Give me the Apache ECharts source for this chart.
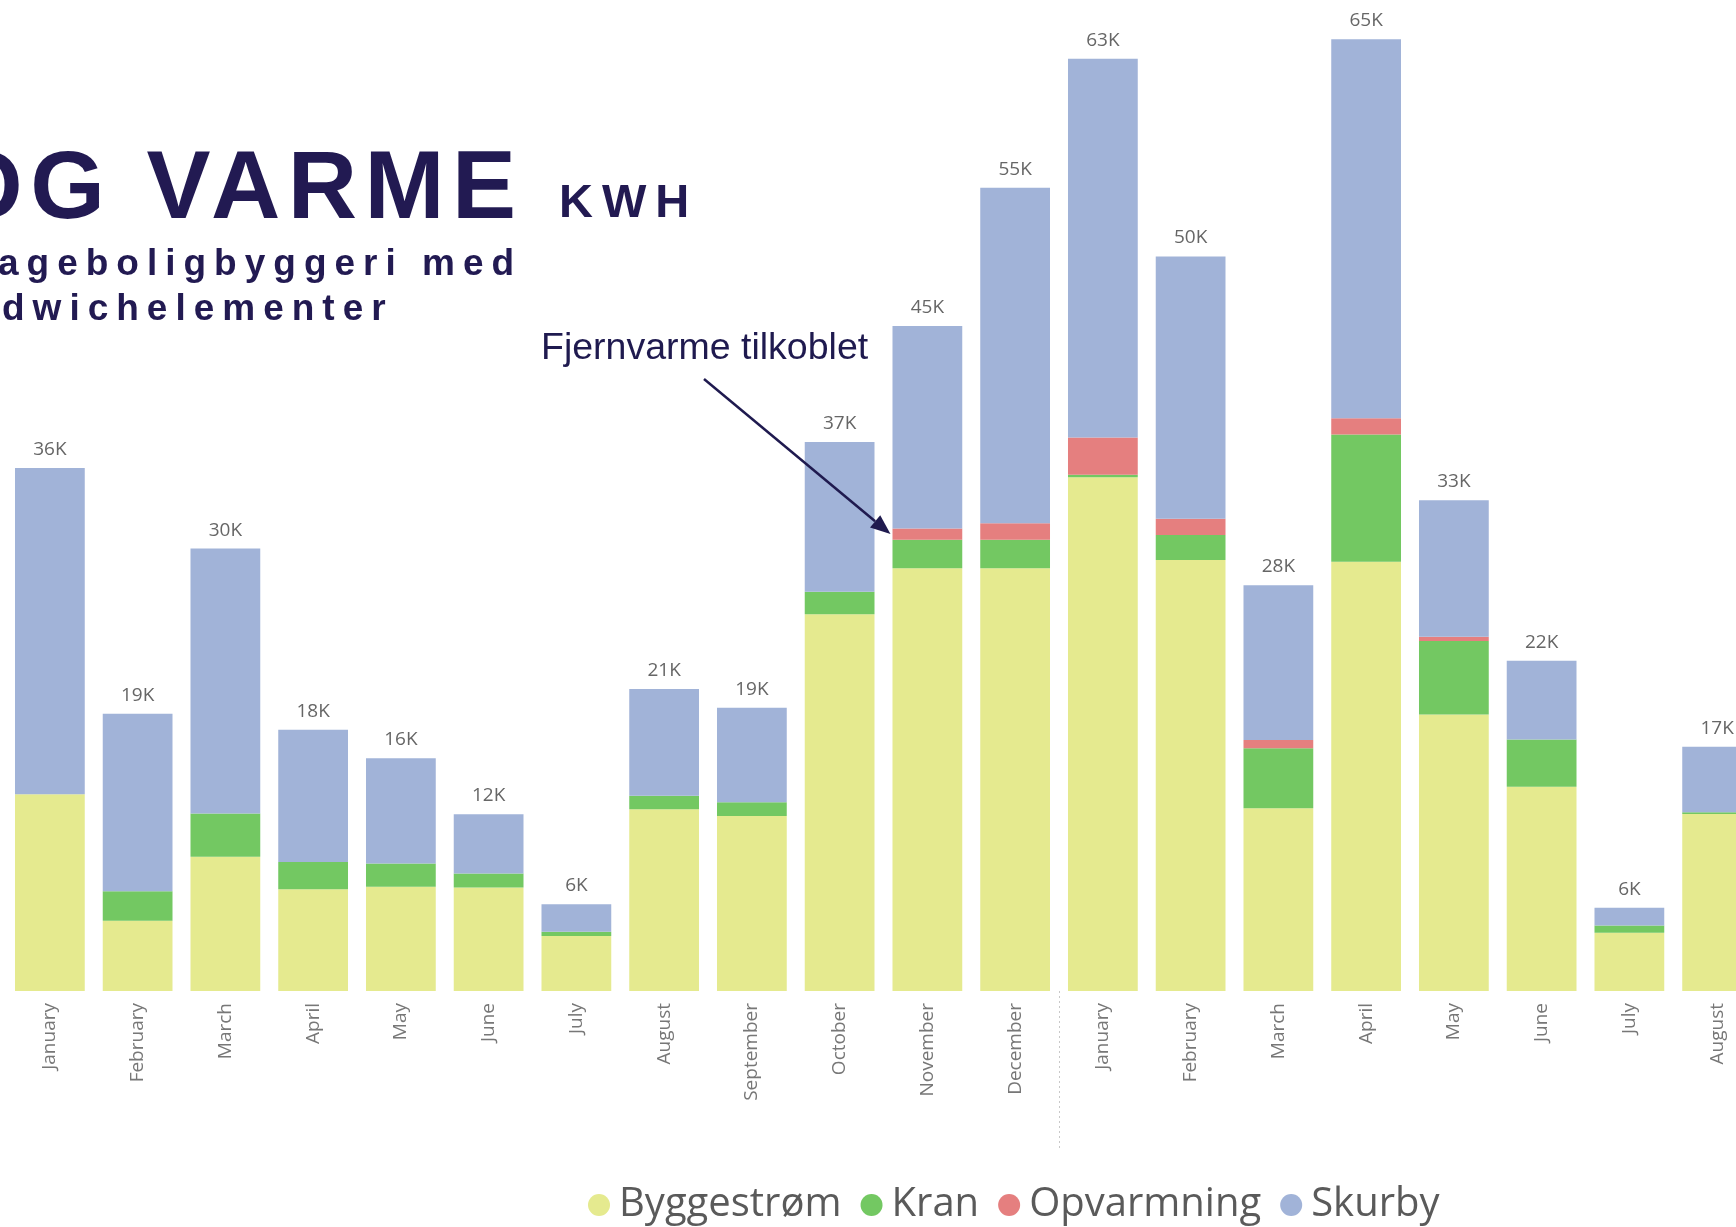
<!DOCTYPE html>
<html>
<head>
<meta charset="utf-8">
<script src="https://cdn.jsdelivr.net/npm/echarts@6/dist/echarts.min.js"></script>
<style>
html, body { margin: 0; padding: 0; background: #fff; }
#wrap { position: relative; width: 1736px; height: 1227px; overflow: hidden; }
#chart { position: absolute; left: 0; top: 0; width: 1736px; height: 1227px; }
.ttl { position: absolute; white-space: nowrap; font-family: "Liberation Sans", Arial, sans-serif; font-weight: bold; color: #221a52; line-height: 1; }
</style>
</head>
<body>
<div id="wrap">
  <div id="chart"></div>
  <div class="ttl" style="left:-52px;top:137px;font-size:96px;letter-spacing:7.5px;">OG VARME</div>
  <div class="ttl" style="left:559px;top:177px;font-size:47px;letter-spacing:9px;">KWH</div>
  <div class="ttl" style="left:-2px;top:244px;font-size:37px;letter-spacing:8px;">ageboligbyggeri med</div>
  <div class="ttl" style="left:2px;top:289px;font-size:37px;letter-spacing:8px;">dwichelementer</div>
</div>
<script>
// months shown on the x axis (two years, cut off after August)
var months = ['January', 'February', 'March', 'April', 'May', 'June', 'July', 'August',
  'September', 'October', 'November', 'December',
  'January', 'February', 'March', 'April', 'May', 'June', 'July', 'August'];

// kWh per month
var byggestrom = [13380, 4780, 9130, 6920, 7100, 7040, 3750, 12360, 11900, 25630,
  28760, 28760, 34950, 29330, 12430, 29200, 18820, 13900, 3970, 12040];
var kran = [0, 2000, 2940, 1860, 1580, 960, 280, 930, 950, 1540,
  1950, 1950, 180, 1690, 4080, 8670, 4990, 3220, 480, 120];
var opvarmning = [0, 0, 0, 0, 0, 0, 0, 0, 0, 0,
  760, 1120, 2530, 1120, 570, 1100, 300, 0, 0, 0];
var skurby = [22200, 12080, 18030, 9000, 7160, 4020, 1880, 7250, 6420, 10180,
  13770, 22830, 25770, 17830, 10520, 25790, 9280, 5350, 1220, 4460];

var seriesNames = ['Byggestrøm', 'Kran', 'Opvarmning', 'Skurby'];
var colors = ['#E5EA8F', '#73C862', '#E57F7F', '#A1B3D8'];

var totals = months.map(function (m, i) {
  return byggestrom[i] + kran[i] + opvarmning[i] + skurby[i];
});

var chart = echarts.init(document.getElementById('chart'));

var gapPct = 0.205;
var allData = [byggestrom, kran, opvarmning, skurby];
var series = seriesNames.map(function (name, k) {
  var s = {
    name: name,
    type: 'bar',
    stack: 'kwh',
    data: allData[k],
    barCategoryGap: (gapPct * 100) + '%',
    itemStyle: { color: colors[k] },
    emphasis: { disabled: true }
  };
  if (k === 3) {
    // total on top of the stack
    s.label = {
      show: true,
      position: 'top',
      distance: 9,
      fontFamily: 'Open Sans',
      fontSize: 19,
      color: '#666',
      formatter: function (p) {
        return Math.round(totals[p.dataIndex] / 1000) + 'K';
      }
    };
  }
  return s;
});

var option = {
  animation: false,
  color: colors,
  grid: { left: 6, width: 1755, top: 21, bottom: 236, outerBoundsMode: 'none', containLabel: false },
  xAxis: {
    type: 'category',
    data: months,
    axisLine: { show: false },
    axisTick: { show: false },
    axisLabel: {
      rotate: 90,
      margin: 12,
      interval: 0,
      fontFamily: 'Open Sans',
      fontSize: 19,
      color: '#777'
    }
  },
  yAxis: {
    type: 'value',
    min: 0,
    max: 66000,
    show: false
  },
  legend: {
    data: seriesNames,
    left: 588,
    top: 1185,
    padding: 0,
    icon: 'circle',
    itemWidth: 22,
    itemHeight: 22,
    itemGap: 19,
    textStyle: {
      fontFamily: 'Open Sans',
      fontSize: 40,
      color: '#5a5a5a',
      padding: [0, 0, 0, 4]
    }
  },
  series: series
};

chart.setOption(option);

// separator between the years and the "Fjernvarme tilkoblet" arrow
var x11 = chart.convertToPixel({ xAxisIndex: 0 }, 11);
var x12 = chart.convertToPixel({ xAxisIndex: 0 }, 12);
var y0 = chart.convertToPixel({ yAxisIndex: 0 }, 0);
var step = x12 - x11;
var sepX = Math.round((x11 + x12) / 2) + 0.5;

var nov = 10;
var novX = chart.convertToPixel({ xAxisIndex: 0 }, nov);
var tipX = novX - step * (1 - gapPct) / 2 - 2;
var tipY = chart.convertToPixel({ yAxisIndex: 0 }, byggestrom[nov] + kran[nov] + opvarmning[nov] / 2);
var sx = 704, sy = 379;
var ang = Math.atan2(tipY - sy, tipX - sx);
var headLen = 20, headHalf = 8;
var bx = tipX - headLen * Math.cos(ang), by = tipY - headLen * Math.sin(ang);
var nx = -Math.sin(ang), ny = Math.cos(ang);

chart.setOption({
  graphic: [
    {
      type: 'line',
      silent: true,
      z: 100,
      shape: { x1: sepX, y1: y0, x2: sepX, y2: y0 + 160 },
      style: { stroke: '#c8c8c8', lineWidth: 1, lineDash: [2, 3] }
    },
    {
      type: 'text',
      silent: true,
      z: 100,
      style: {
        x: 541,
        y: 349,
        text: 'Fjernvarme tilkoblet',
        font: '37.5px "Liberation Sans", Arial, sans-serif',
        fill: '#1f1a4f',
        verticalAlign: 'middle'
      }
    },
    {
      type: 'line',
      silent: true,
      z: 100,
      shape: { x1: sx, y1: sy, x2: bx, y2: by },
      style: { stroke: '#1f1a4f', lineWidth: 2.5 }
    },
    {
      type: 'polygon',
      silent: true,
      z: 100,
      shape: {
        points: [
          [tipX, tipY],
          [bx + nx * headHalf, by + ny * headHalf],
          [bx - nx * headHalf, by - ny * headHalf]
        ]
      },
      style: { fill: '#1f1a4f' }
    }
  ]
});
</script>
</body>
</html>
